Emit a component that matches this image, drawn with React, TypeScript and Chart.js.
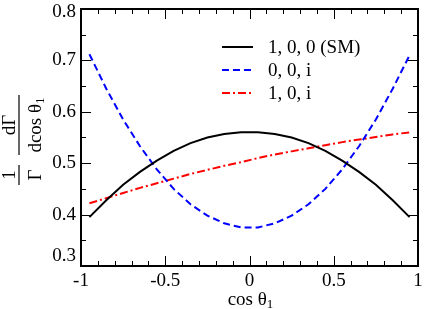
import React, { useEffect, useRef } from "react";
import { Chart, registerables } from "chart.js";
Chart.register(...registerables);

const cosTheta = [-0.95, -0.85, -0.75, -0.65, -0.55, -0.45, -0.35, -0.25, -0.15, -0.05, 0.05, 0.15, 0.25, 0.35, 0.45, 0.55, 0.65, 0.75, 0.85, 0.95];
const smSeries = [0.395, 0.428, 0.458, 0.483, 0.505, 0.524, 0.539, 0.550, 0.557, 0.560, 0.560, 0.557, 0.550, 0.539, 0.524, 0.505, 0.483, 0.458, 0.428, 0.395];
const ooiSeries = [0.712, 0.645, 0.585, 0.533, 0.488, 0.450, 0.420, 0.398, 0.383, 0.375, 0.375, 0.383, 0.398, 0.420, 0.450, 0.488, 0.533, 0.585, 0.645, 0.710];
const loiSeries = [0.422, 0.432, 0.442, 0.452, 0.461, 0.470, 0.479, 0.487, 0.495, 0.502, 0.510, 0.517, 0.523, 0.529, 0.535, 0.541, 0.546, 0.551, 0.556, 0.560];
const seriesLabels = ["1, 0, 0 (SM)", "0, 0, i", "1, 0, i"];

const xTickValues = [-1, -0.5, 0, 0.5, 1];
const xTickLabels = ["-1", "-0.5", "0", "0.5", "1"];
const yTickValues = [0.3, 0.4, 0.5, 0.6, 0.7, 0.8];
const yTickLabels = ["0.3", "0.4", "0.5", "0.6", "0.7", "0.8"];

const FONT = '"Liberation Serif", "Times New Roman", serif';

export default function App() {
  const ref = useRef<HTMLCanvasElement>(null);
  useEffect(() => {
    const canvas = ref.current!;
    const decor = {
      id: "decor",
      afterDraw(chart: any) {
        const ctx = chart.ctx as CanvasRenderingContext2D;
        const { left, right, top, bottom } = chart.chartArea;
        const xs = chart.scales.x;
        const ys = chart.scales.y;
        ctx.save();
        ctx.strokeStyle = "#000";
        ctx.fillStyle = "#000";
        // ticks
        ctx.lineWidth = 1;
        ctx.beginPath();
        for (let i = -10; i <= 10; i++) {
          const v = i / 10;
          const major = i % 5 === 0;
          const len = major ? 10 : 5;
          const px = Math.round(xs.getPixelForValue(v)) + 0.5;
          ctx.moveTo(px, bottom);
          ctx.lineTo(px, bottom - len);
          ctx.moveTo(px, top);
          ctx.lineTo(px, top + len);
        }
        for (let i = 0; i <= 10; i++) {
          const v = 0.3 + i * 0.05;
          const major = i % 2 === 0;
          const len = major ? 10 : 5;
          const py = Math.round(ys.getPixelForValue(v)) + 0.5;
          ctx.moveTo(left, py);
          ctx.lineTo(left + len, py);
          ctx.moveTo(right, py);
          ctx.lineTo(right - len, py);
        }
        ctx.stroke();
        // frame
        ctx.lineWidth = 2;
        ctx.strokeRect(left, top, right - left, bottom - top);

        // tick labels
        ctx.font = `19px ${FONT}`;
        ctx.textAlign = "right";
        ctx.textBaseline = "middle";
        yTickValues.forEach((v, i) => {
          const py = Math.min(Math.max(ys.getPixelForValue(v), top + 3), bottom - 10);
          ctx.fillText(yTickLabels[i], left - 5, py);
        });
        ctx.textAlign = "center";
        ctx.textBaseline = "alphabetic";
        xTickValues.forEach((v, i) => {
          ctx.fillText(xTickLabels[i], xs.getPixelForValue(v), bottom + 20);
        });

        // x title: cos θ1
        const main = "cos θ";
        ctx.font = `19px ${FONT}`;
        const w1 = ctx.measureText(main).width;
        ctx.font = `13px ${FONT}`;
        const w2 = ctx.measureText("1").width;
        const cx = (left + right) / 2 + 1;
        const sx = cx - (w1 + w2) / 2;
        ctx.textAlign = "left";
        ctx.font = `19px ${FONT}`;
        ctx.fillText(main, sx, 305);
        ctx.font = `13px ${FONT}`;
        ctx.fillText("1", sx + w1, 308);

        // y title: (1/Γ) dΓ/dcosθ1, rotated
        ctx.save();
        ctx.translate(19, 140);
        ctx.rotate(-Math.PI / 2);
        const frac = (num: string, den: string, denSub: string | null, uCenter: number, barHalf: number) => {
          ctx.font = `19px ${FONT}`;
          ctx.textAlign = "center";
          ctx.fillText(num, uCenter, -4);
          if (denSub) {
            const dw = ctx.measureText(den).width;
            ctx.font = `13px ${FONT}`;
            const sw = ctx.measureText(denSub).width;
            const s = uCenter - (dw + sw) / 2;
            ctx.font = `19px ${FONT}`;
            ctx.textAlign = "left";
            ctx.fillText(den, s, 22);
            ctx.font = `13px ${FONT}`;
            ctx.fillText(denSub, s + dw, 25);
          } else {
            ctx.fillText(den, uCenter, 22);
          }
          ctx.lineWidth = 1.2;
          ctx.beginPath();
          ctx.moveTo(uCenter - barHalf, 0);
          ctx.lineTo(uCenter + barHalf, 0);
          ctx.stroke();
        };
        frac("1", "Γ", null, -35, 10);
        frac("dΓ", "dcos θ", "1", 15, 30);
        ctx.restore();

        // legend
        ctx.font = `19px ${FONT}`;
        ctx.textAlign = "left";
        ctx.textBaseline = "middle";
        chart.data.datasets.forEach((ds: any, i: number) => {
          const y = 47 + i * 23;
          ctx.strokeStyle = ds.borderColor;
          ctx.lineWidth = 2;
          ctx.setLineDash(ds.borderDash || []);
          ctx.beginPath();
          ctx.moveTo(222, y);
          ctx.lineTo(253, y);
          ctx.stroke();
          ctx.setLineDash([]);
          ctx.fillStyle = "#000";
          ctx.fillText(ds.label, 268, y + 1);
        });
        ctx.restore();
      },
    };

    const mk = (vals: number[]) => cosTheta.map((x, i) => ({ x, y: vals[i] }));
    const chart = new Chart(canvas, {
      type: "line",
      data: {
        datasets: [
          { label: seriesLabels[0], data: mk(smSeries), borderColor: "#000000", borderWidth: 2, borderDash: [], pointRadius: 0, tension: 0, fill: false },
          { label: seriesLabels[1], data: mk(ooiSeries), borderColor: "#0000ff", borderWidth: 2, borderDash: [7, 4], pointRadius: 0, tension: 0, fill: false },
          { label: seriesLabels[2], data: mk(loiSeries), borderColor: "#ff0000", borderWidth: 2, borderDash: [8, 3, 2, 3], pointRadius: 0, tension: 0, fill: false },
        ],
      },
      options: {
        animation: false,
        responsive: false,
        devicePixelRatio: 1,
        layout: { padding: { left: 81, right: 6, top: 9, bottom: 43 } },
        scales: {
          x: { type: "linear", min: -1, max: 1, display: false },
          y: { type: "linear", min: 0.3, max: 0.8, display: false },
        },
        plugins: { legend: { display: false }, tooltip: { enabled: false } },
      },
      plugins: [decor],
    } as any);
    return () => chart.destroy();
  }, []);
  return (
    <div style={{ position: "fixed", left: 0, top: 0, width: 424, height: 309, background: "#fff" }}>
      <canvas ref={ref} width={424} height={309} style={{ display: "block" }} />
    </div>
  );
}
